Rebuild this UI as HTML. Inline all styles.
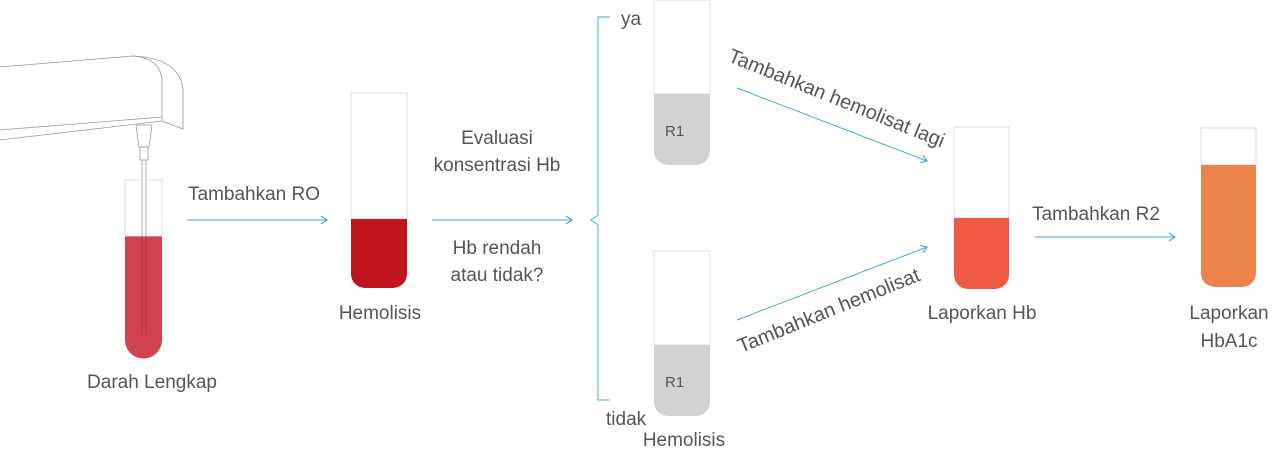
<!DOCTYPE html>
<html><head><meta charset="utf-8"><style>
html,body{margin:0;padding:0;background:#fff;}
svg{display:block;}
text{font-family:"Liberation Sans","DejaVu Sans",sans-serif;fill:#555;font-size:19px;}
</style></head><body>
<svg width="1280" height="465" viewBox="0 0 1280 465" xmlns="http://www.w3.org/2000/svg">
<defs>
<marker id="ah" markerWidth="10" markerHeight="10" refX="8" refY="5" orient="auto" markerUnits="userSpaceOnUse">
<path d="M2,1 L8,5 L2,9" fill="none" stroke="#46a9d6" stroke-width="1.2"/>
</marker>
</defs>
<!-- pipette -->
<g fill="none" stroke="#999" stroke-width="0.8">
<path d="M0,67 L133,56 Q180,58 183,90 L183,129 L162,121"/>
<path d="M133,56 Q160,58 162,80 L162,121"/>
<path d="M0,130 L162,117"/>
<path d="M0,140 L162,121"/>
<path d="M136,125 L152,125 L149,147 L139,147 Z"/>
<path d="M140,147 L148,147 L148,160 L140,160 Z"/>
<path d="M142,160 L142,335 L146,335 L146,160"/>
</g>
<!-- tube 1 -->
<path d="M125,236 L162,236 L162,340 A18.5,18.5 0 0 1 125,340 Z" fill="#d0434c"/>
<rect x="125" y="180" width="37" height="56" fill="none" stroke="#ddd" stroke-width="1"/>
<line x1="142" y1="236" x2="142" y2="335" stroke="#a8323a" stroke-width="0.8"/>
<line x1="146" y1="236" x2="146" y2="335" stroke="#a8323a" stroke-width="0.8"/>
<text x="152" y="388" text-anchor="middle">Darah Lengkap</text>
<!-- arrow 1 -->
<line x1="187" y1="220" x2="327" y2="220" stroke="#46a9d6" stroke-width="1" marker-end="url(#ah)"/>
<text x="188" y="200">Tambahkan RO</text>
<!-- tube 2 -->
<rect x="351" y="93" width="56" height="126" fill="none" stroke="#ddd" stroke-width="1"/>
<path d="M351,219 L407,219 L407,274 A14,14 0 0 1 393,288 L365,288 A14,14 0 0 1 351,274 Z" fill="#c0151f"/>
<text x="380" y="319" text-anchor="middle">Hemolisis</text>
<!-- arrow 2 -->
<line x1="432" y1="220" x2="572" y2="220" stroke="#46a9d6" stroke-width="1" marker-end="url(#ah)"/>
<text x="497" y="144" text-anchor="middle">Evaluasi</text>
<text x="497" y="171" text-anchor="middle">konsentrasi Hb</text>
<text x="497" y="254" text-anchor="middle">Hb rendah</text>
<text x="497" y="281" text-anchor="middle">atau tidak?</text>
<!-- bracket -->
<path d="M610,17 L598,17 L598,215 L591,220 L598,225 L598,400 L610,400" fill="none" stroke="#46a9d6" stroke-width="1"/>
<text x="621" y="25">ya</text>
<text x="606" y="425">tidak</text>
<text x="684" y="446" text-anchor="middle">Hemolisis</text>
<!-- R1 tubes -->
<rect x="654" y="0" width="56" height="94" fill="none" stroke="#ddd" stroke-width="1"/>
<path d="M654,94 L710,94 L710,151 A14,14 0 0 1 696,165 L668,165 A14,14 0 0 1 654,151 Z" fill="#d2d2d3"/>
<text x="665" y="136" style="font-size:15px">R1</text>
<rect x="654" y="251" width="56" height="94" fill="none" stroke="#ddd" stroke-width="1"/>
<path d="M654,345 L710,345 L710,402 A14,14 0 0 1 696,416 L668,416 A14,14 0 0 1 654,402 Z" fill="#d2d2d3"/>
<text x="665" y="387" style="font-size:15px">R1</text>
<!-- diagonal arrows -->
<line x1="737" y1="88" x2="927" y2="161" stroke="#46a9d6" stroke-width="1" marker-end="url(#ah)"/>
<line x1="737" y1="320" x2="927" y2="247" stroke="#46a9d6" stroke-width="1" marker-end="url(#ah)"/>
<text transform="translate(727,61) rotate(22)" style="font-size:20px">Tambahkan hemolisat lagi</text>
<text transform="translate(741,353) rotate(-22)" style="font-size:20px">Tambahkan hemolisat</text>
<!-- Hb tube -->
<rect x="954" y="127" width="55" height="91" fill="none" stroke="#ddd" stroke-width="1"/>
<path d="M954,218 L1009,218 L1009,275 A14,14 0 0 1 995,289 L968,289 A14,14 0 0 1 954,275 Z" fill="#ef5a43"/>
<text x="982" y="319" text-anchor="middle">Laporkan Hb</text>
<!-- arrow 3 -->
<line x1="1035" y1="237" x2="1175" y2="237" stroke="#46a9d6" stroke-width="1" marker-end="url(#ah)"/>
<text x="1096" y="220" text-anchor="middle">Tambahkan R2</text>
<!-- HbA1c tube -->
<rect x="1201" y="128" width="55" height="37" fill="none" stroke="#ddd" stroke-width="1"/>
<path d="M1201,165 L1256,165 L1256,273 A14,14 0 0 1 1242,287 L1215,287 A14,14 0 0 1 1201,273 Z" fill="#ec834c"/>
<text x="1229" y="319" text-anchor="middle">Laporkan</text>
<text x="1229" y="347" text-anchor="middle">HbA1c</text>
</svg>
</body></html>
